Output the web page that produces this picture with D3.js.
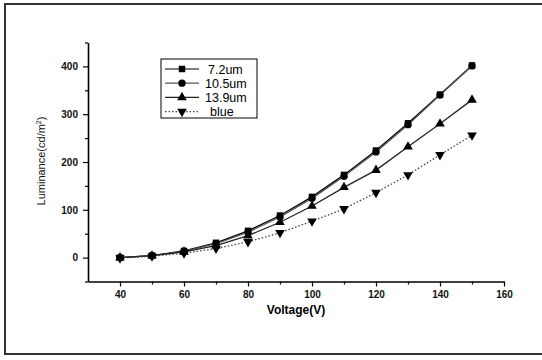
<!DOCTYPE html>
<html>
<head>
<meta charset="utf-8">
<script src="https://cdn.jsdelivr.net/npm/d3@7"></script>
<style>
  body { margin: 0; background: #fff; }
  svg { display: block; font-family: Arial, "Liberation Sans", sans-serif; }
</style>
</head>
<body>
<div id="chart"></div>
<script>
// voltage steps (V)
const voltage = [40, 50, 60, 70, 80, 90, 100, 110, 120, 130, 140, 150];
// luminance (cd/m2) per series
const lum72 = [0, 4, 14, 31, 56, 88, 127, 173, 224, 281, 341, 402];
const lum105 = [0, 4, 13, 29, 53, 85, 124, 170, 221, 278, 340, 401];
const lum139 = [0, 4, 12, 25, 46, 74, 108, 147, 183, 232, 280, 330];
const lumBlue = [-1, 3, 9, 19, 33, 52, 76, 102, 136, 173, 215, 256];
const seriesNames = ["7.2um", "10.5um", "13.9um", "blue"];
const xTicks = [40, 60, 80, 100, 120, 140, 160];
const yTicks = [0, 100, 200, 300, 400];

const W = 542, H = 360;
const svg = d3.select("#chart").append("svg")
  .attr("width", W).attr("height", H);

// outer frame
svg.append("rect")
  .attr("x", 5).attr("y", 4).attr("width", 545).attr("height", 350)
  .attr("fill", "none").attr("stroke", "#333").attr("stroke-width", 2);

const x = d3.scaleLinear().domain([30, 160]).range([88, 504]);
const y = d3.scaleLinear().domain([-50, 450]).range([281.5, 42.5]);

// axes
svg.append("g")
  .attr("transform", `translate(0,${y(-50)})`)
  .call(d3.axisBottom(x).tickValues(xTicks).tickSize(5).tickPadding(4).tickSizeOuter(0));
svg.append("g")
  .attr("transform", `translate(0,${y(-50)})`)
  .call(d3.axisBottom(x).tickValues(d3.range(50, 160, 20)).tickSize(3).tickFormat("").tickSizeOuter(0))
  .call(g => g.select(".domain").remove());

svg.append("g")
  .attr("transform", `translate(${x(30)},0)`)
  .call(d3.axisLeft(y).tickValues(yTicks).tickSize(5).tickPadding(5).tickSizeOuter(0));
svg.append("g")
  .attr("transform", `translate(${x(30)},0)`)
  .call(d3.axisLeft(y).tickValues([-50, 50, 150, 250, 350, 450]).tickSize(3).tickFormat("").tickSizeOuter(0))
  .call(g => g.select(".domain").remove());

svg.selectAll(".domain").attr("stroke", "#000").attr("stroke-width", 1.6);
svg.selectAll(".tick line").attr("stroke", "#000").attr("stroke-width", 1.2);
svg.selectAll(".tick text")
  .attr("font-size", 10).attr("font-weight", "bold").attr("fill", "#111")
  .attr("font-family", "Arial, 'Liberation Sans', sans-serif");

// axis titles
svg.append("text")
  .attr("x", 296).attr("y", 314)
  .attr("text-anchor", "middle")
  .attr("font-size", 12).attr("font-weight", "bold")
  .text("Voltage(V)");

const yt = svg.append("text")
  .attr("transform", `translate(45,${y(200) - 1}) rotate(-90)`)
  .attr("text-anchor", "middle")
  .attr("font-size", 11).attr("fill", "#111");
yt.append("tspan").text("Luminance(cd/m");
yt.append("tspan").attr("dy", -4).attr("font-size", 7).text("2");
yt.append("tspan").attr("dy", 4).text(")");

// series
const symSquare = d3.symbol().type(d3.symbolSquare).size(42);
const symCircle = d3.symbol().type(d3.symbolCircle).size(42);
const symTri = d3.symbol().type(d3.symbolTriangle).size(40);
const symDown = d3.symbol().type(d3.symbolTriangle).size(40);

const series = [
  { name: seriesNames[0], vals: lum72, stroke: "#000", dash: null, sym: symSquare, rot: 0 },
  { name: seriesNames[1], vals: lum105, stroke: "#555", dash: null, sym: symCircle, rot: 0 },
  { name: seriesNames[2], vals: lum139, stroke: "#222", dash: null, sym: symTri, rot: 0 },
  { name: seriesNames[3], vals: lumBlue, stroke: "#444", dash: "1.5,2", sym: symDown, rot: 180 }
];

const line = d3.line().x((d, i) => x(voltage[i])).y(d => y(d));

series.forEach(s => {
  svg.append("path")
    .attr("d", line(s.vals))
    .attr("fill", "none")
    .attr("stroke", s.stroke)
    .attr("stroke-width", 1.3)
    .attr("stroke-dasharray", s.dash);
});
// markers, first series drawn last so it sits on top
series.slice().reverse().forEach(s => {
  svg.append("g").selectAll("path")
    .data(s.vals)
    .join("path")
    .attr("d", s.sym)
    .attr("transform", (d, i) => `translate(${x(voltage[i])},${y(d)}) rotate(${s.rot})`)
    .attr("fill", "#000");
});

// legend
const lg = svg.append("g");
lg.append("rect")
  .attr("x", 161).attr("y", 59).attr("width", 96).attr("height", 59)
  .attr("fill", "#fff").attr("stroke", "#000").attr("stroke-width", 1);
series.forEach((s, i) => {
  const ly = 69 + i * 14.2;
  lg.append("line")
    .attr("x1", 165).attr("x2", 199).attr("y1", ly).attr("y2", ly)
    .attr("stroke", s.stroke).attr("stroke-width", 1.2)
    .attr("stroke-dasharray", s.dash);
  lg.append("path")
    .attr("d", s.sym)
    .attr("transform", `translate(182,${ly}) rotate(${s.rot})`)
    .attr("fill", "#000");
  lg.append("text")
    .attr("x", i === 3 ? 210 : (i === 0 ? 208 : 205)).attr("y", ly + 4.5)
    .attr("font-size", 12.5).attr("fill", "#000")
    .text(s.name);
});
</script>
</body>
</html>
